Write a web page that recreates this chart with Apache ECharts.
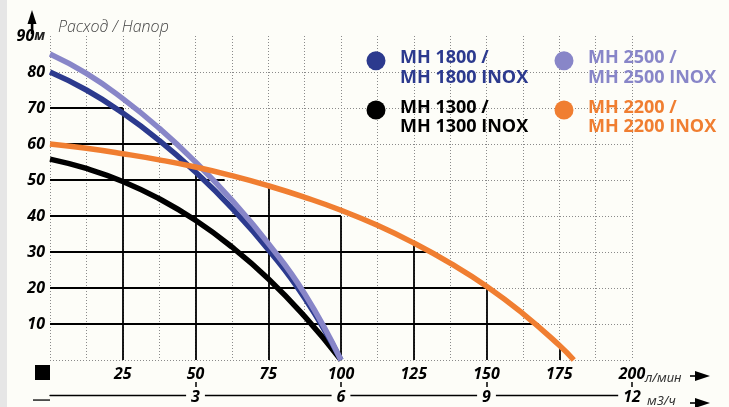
<!DOCTYPE html>
<html><head><meta charset="utf-8">
<script src="https://cdn.jsdelivr.net/npm/echarts@6/dist/echarts.min.js"></script>
<style>html,body{margin:0;padding:0;background:#fdfdf8}#c{width:729px;height:407px}</style>
</head><body><div id="c"></div>
<script>
// ---- data (flow l/min -> head m) ----
const flowA = [0, 12.5, 25, 37.5, 50, 62.5, 75, 87.5, 100];
const mh2500 = [85, 79.6, 72.6, 64.4, 55, 44.4, 32.4, 18.4, 0];
const mh1800 = [80, 75, 68.6, 61, 52.2, 42.2, 30.7, 17.2, 0];
const mh1300 = [55.8, 53.2, 49.6, 44.8, 38.8, 31.4, 22.6, 12.1, 0];
const flowB = [0, 12.5, 25, 37.5, 50, 62.5, 75, 87.5, 100, 112.5, 125, 137.5, 150, 162.5, 175, 180];
const mh2200 = [60, 58.8, 57.3, 55.6, 53.6, 51.2, 48.4, 45.2, 41.6, 37.4, 32.5, 26.9, 20.5, 12.9, 4.1, 0];
const names = ['MH 1800 /\nMH 1800 INOX', 'MH 1300 /\nMH 1300 INOX', 'MH 2500 /\nMH 2500 INOX', 'MH 2200 /\nMH 2200 INOX'];
// solid working-area grid lines
const hSolidY = [10, 20, 30, 40, 50, 60, 70];
const hSolidEnd = [168, 150, 130, 100, 60, 42, 25];
const vSolidX = [25, 50, 75, 100, 125, 150, 175];
const vSolidTop = [70, 52, 48, 40, 32, 20.5, 4.6];
const m3Ticks = [3, 6, 9, 12];

const C = {navy: '#2c3a8e', lav: '#8886c8', orange: '#f07e31', black: '#000'};
const pair = (xs, ys) => xs.map((x, i) => [x, ys[i]]);
const solid = [];
hSolidY.forEach((y, i) => solid.push({coords: [[0, y], [hSolidEnd[i], y]]}));
vSolidX.forEach((x, i) => solid.push({coords: [[x, 0], [x, vSolidTop[i]]]}));

const numFont = {fontFamily: 'Noto Sans', fontWeight: 'bold', fontStyle: 'italic', fontSize: 16, color: '#000'};
const lineS = (name, data, color, z) => ({
  name, type: 'line', data, smooth: 0.5, symbol: 'none', z,
  lineStyle: {color, width: 5.5}, itemStyle: {color}
});
const legendText = {fontFamily: 'Open Sans', fontWeight: 'bold', fontSize: 18, lineHeight: 19.5, padding: [0, 0, 0, 9.5],
  rich: {s: {fontSize: 4, lineHeight: 14.5}}};
const legendFmt = n => '{s| }\n' + n;

const chart = echarts.init(document.getElementById('c'), null, {renderer: 'canvas'});
chart.setOption({
  backgroundColor: '#fdfdf8',
  animation: false,
  grid: {left: 50, right: 97, top: 36, bottom: 42},
  xAxis: [{
    type: 'value', min: 0, max: 200, interval: 12.5,
    axisLine: {show: false}, axisTick: {show: false},
    splitLine: {show: true, lineStyle: {type: [1, 2], color: '#8a8a8a', width: 1}},
    axisLabel: Object.assign({margin: 6, formatter: v => (v > 0 && v % 25 === 0) ? String(v) : ''}, numFont)
  }, {
    type: 'value', min: 0, max: 12, interval: 3, position: 'bottom', offset: 35,
    axisLine: {show: true, lineStyle: {color: '#000', width: 1.3}},
    axisTick: {show: true, inside: true, length: 13, customValues: m3Ticks, lineStyle: {color: '#000', width: 1.5}},
    splitLine: {show: false},
    axisLabel: Object.assign({margin: -8, backgroundColor: '#fdfdf8', padding: [2, 5, 2, 5], customValues: m3Ticks,
      formatter: v => String(v)}, numFont)
  }],
  yAxis: {
    type: 'value', min: 0, max: 90, interval: 10,
    axisLine: {show: false}, axisTick: {show: false},
    splitLine: {show: true, showMaxLine: false, lineStyle: {type: [1, 2], color: '#8a8a8a', width: 1}},
    axisLabel: Object.assign({margin: 5, formatter: v => v === 90 ? '{b|90}{u|м}' : (v > 0 ? String(v) : ''),
      rich: {b: numFont, u: {fontFamily: 'Noto Sans', fontStyle: 'italic', fontSize: 14, color: '#222'}}}, numFont)
  },
  legend: [{
    orient: 'vertical', left: 366.5, top: 33.95, padding: 0, itemGap: -4.2,
    itemWidth: 19, itemHeight: 19, icon: 'circle', formatter: legendFmt,
    data: [{name: names[0], textStyle: {color: C.navy}}, {name: names[1], textStyle: {color: C.black}}],
    textStyle: legendText
  }, {
    orient: 'vertical', left: 554.5, top: 33.95, padding: 0, itemGap: -4.2,
    itemWidth: 19, itemHeight: 19, icon: 'circle', formatter: legendFmt,
    data: [{name: names[2], textStyle: {color: C.lav}}, {name: names[3], textStyle: {color: C.orange}}],
    textStyle: legendText
  }],
  series: [
    {type: 'lines', coordinateSystem: 'cartesian2d', data: solid, z: 1, silent: true,
     lineStyle: {color: '#000', width: 1.8, opacity: 1}},
    lineS(names[1], pair(flowA, mh1300), C.black, 2),
    lineS(names[0], pair(flowA, mh1800), C.navy, 3),
    lineS(names[2], pair(flowA, mh2500), C.lav, 4),
    lineS(names[3], pair(flowB, mh2200), C.orange, 5)
  ],
  graphic: [
    {type: 'rect', shape: {x: 0, y: 0, width: 7, height: 407}, style: {fill: '#e6e6e6'}, silent: true},
    {type: 'text', x: 58, y: 27, style: {text: 'Расход / Напор', font: 'italic 300 16px "Open Sans"', fill: '#444', verticalAlign: 'middle'}},
    {type: 'polygon', shape: {points: [[32, 10], [27.5, 24], [36.5, 24]]}, style: {fill: '#000'}},
    {type: 'rect', shape: {x: 30.8, y: 22, width: 2.6, height: 12}, style: {fill: '#000'}},
    {type: 'rect', shape: {x: 35, y: 365, width: 15, height: 15}, style: {fill: '#000'}},
    {type: 'rect', shape: {x: 33, y: 399.4, width: 17, height: 1.3}, style: {fill: '#000'}},
    {type: 'text', x: 645, y: 378, style: {text: 'л/мин', font: 'italic 13px "Noto Sans"', fill: '#333', verticalAlign: 'middle'}},
    {type: 'text', x: 647, y: 401, style: {text: 'м3/ч', font: 'italic 13px "Noto Sans"', fill: '#333', verticalAlign: 'middle'}},
    {type: 'rect', shape: {x: 690, y: 375.2, width: 8, height: 1.6}, style: {fill: '#000'}},
    {type: 'polygon', shape: {points: [[695, 371], [710, 376], [695, 381]]}, style: {fill: '#000'}},
    {type: 'rect', shape: {x: 690, y: 402.2, width: 8, height: 1.6}, style: {fill: '#000'}},
    {type: 'polygon', shape: {points: [[695, 398], [710, 403], [695, 408]]}, style: {fill: '#000'}}
  ]
});
</script></body></html>
